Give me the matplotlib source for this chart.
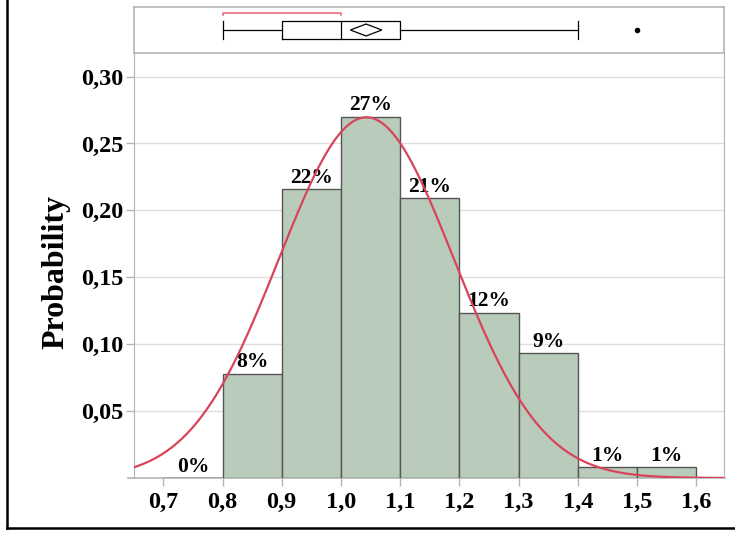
import numpy as np
import matplotlib.pyplot as plt
from matplotlib.lines import Line2D
from matplotlib.patches import Polygon

# histogram data: bin edges and probability per bin
bin_left = [0.7, 0.8, 0.9, 1.0, 1.1, 1.2, 1.3, 1.4, 1.5]
probs = [0.0, 0.078, 0.216, 0.270, 0.209, 0.1235, 0.0935, 0.0082, 0.0082]
pct_labels = ["0%", "8%", "22%", "27%", "21%", "12%", "9%", "1%", "1%"]
bin_w = 0.1

# fitted normal
mu = 1.043
sigma = 0.148

# box plot summary
whisk_lo, q1, median, q3, whisk_hi = 0.8, 0.9, 1.0, 1.1, 1.4
outliers = [1.5]
mean_ci = (1.016, 1.069)
shortest_half = (0.8, 1.0)

xticks = [0.7, 0.8, 0.9, 1.0, 1.1, 1.2, 1.3, 1.4, 1.5, 1.6]
yticks = [0.05, 0.10, 0.15, 0.20, 0.25, 0.30]

serif = "Liberation Serif"
grey = "#b4b4b4"
fig = plt.figure(figsize=(7.35, 5.33), dpi=100)

L, R = 134 / 735, 724 / 735
ax = fig.add_axes([L, 55 / 533, R - L, 425 / 533])
bx = fig.add_axes([L, 480 / 533, R - L, 46 / 533], sharex=ax)

# histogram
ax.bar(bin_left, probs, width=bin_w, align="edge", color="#b9cbba",
       edgecolor="#555555", linewidth=1, zorder=2)
for x, p, lab in zip(bin_left, probs, pct_labels):
    ax.text(x + bin_w / 2, p + 0.001, lab, ha="center", va="bottom",
            fontsize=15.5, fontweight="bold", family=serif, zorder=3)

xs = np.linspace(0.6, 1.7, 400)
curve = bin_w * np.exp(-0.5 * ((xs - mu) / sigma) ** 2) / (sigma * np.sqrt(2 * np.pi))
ax.plot(xs, curve, color="#d8455a", linewidth=1.6, zorder=4)

ax.set_xlim(0.6505, 1.647)
ax.set_ylim(0, 0.3176)
ax.set_xticks(xticks)
ax.set_xticklabels([f"{v:.1f}".replace(".", ",") for v in xticks])
ax.set_yticks(yticks)
ax.set_yticklabels([f"{v:.2f}".replace(".", ",") for v in yticks])
ax.grid(axis="y", color="#dedede", linewidth=1, zorder=0)
ax.tick_params(colors=grey, labelcolor="black", length=6, width=1, labelsize=17.5)
ax.tick_params(axis="y", pad=1.5)
ax.tick_params(axis="x", pad=4)
for t in ax.get_xticklabels() + ax.get_yticklabels():
    t.set_family(serif)
    t.set_fontweight("bold")
ax.set_ylabel("Probability", family=serif, fontweight="bold", fontsize=23)
ax.yaxis.label.set_va("center")
ax.yaxis.set_label_coords(-0.133, 0.485)

for s in ["top", "bottom"]:
    ax.spines[s].set_visible(False)
for s in ["left", "right"]:
    ax.spines[s].set_color(grey)
ax.plot([-0.01, 1.002], [0, 0], transform=ax.transAxes, color=grey,
        linewidth=1.2, clip_on=False, zorder=1)

# box plot panel
bx.set_ylim(0, 1)
bx.tick_params(left=False, bottom=False, labelleft=False, labelbottom=False)
for s in bx.spines.values():
    s.set_color(grey)
    s.set_linewidth(1.2)

k = "black"
bx.plot([whisk_lo, q1], [0.5, 0.5], color=k, lw=0.9)
bx.plot([q3, whisk_hi], [0.5, 0.5], color=k, lw=0.9)
bx.plot([whisk_lo, whisk_lo], [0.3, 0.7], color=k, lw=0.9)
bx.plot([whisk_hi, whisk_hi], [0.3, 0.7], color=k, lw=0.9)
bx.plot([q1, q3, q3, q1, q1], [0.3, 0.3, 0.7, 0.7, 0.3], color=k, lw=0.9)
bx.plot([median, median], [0.3, 0.7], color=k, lw=0.9)
mid = sum(mean_ci) / 2
bx.add_patch(Polygon([[mean_ci[0], 0.5], [mid, 0.63], [mean_ci[1], 0.5], [mid, 0.37]],
                     closed=True, fill=False, edgecolor=k, lw=0.9))
bx.plot(outliers, [0.5] * len(outliers), "o", color=k, markersize=3)
bx.plot([shortest_half[0], shortest_half[0], shortest_half[1], shortest_half[1]],
        [0.82, 0.87, 0.87, 0.82], color="#e8707e", lw=1.2)

# outer frame lines
fig.add_artist(Line2D([7 / 735, 7 / 735], [5 / 533, 1.0], color="black", lw=1.8))
fig.add_artist(Line2D([7 / 735, 1.0], [5 / 533, 5 / 533], color="black", lw=1.8))

fig.savefig("out.png", dpi=100)
